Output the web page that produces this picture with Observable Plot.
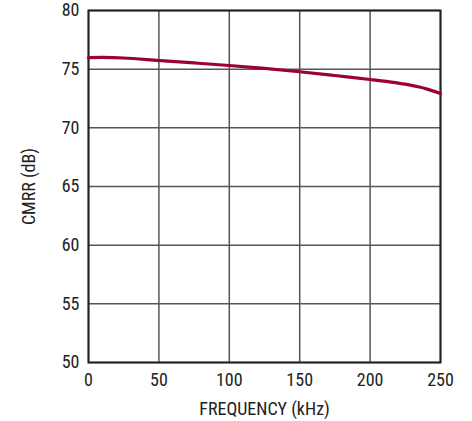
<!DOCTYPE html>
<html>
<head>
<meta charset="utf-8">
<script src="https://cdn.jsdelivr.net/npm/d3@7"></script>
<script src="https://cdn.jsdelivr.net/npm/@observablehq/plot@0.6"></script>
<style>
  html, body { margin: 0; padding: 0; background: #fff; }
  svg { display: block; }
</style>
</head>
<body>
<div id="chart"></div>
<script>
const freqKHz = [0, 10, 25, 50, 75, 100, 125, 150, 175, 200, 215, 225, 235, 240, 250];
const cmrrDB  = [75.98, 76.0, 75.95, 75.74, 75.53, 75.31, 75.06, 74.78, 74.46, 74.12, 73.9, 73.72, 73.48, 73.32, 72.92];
const xTicks = [0, 50, 100, 150, 200, 250];
const yTicks = [50, 55, 60, 65, 70, 75, 80];

const data = freqKHz.map((f, i) => ({f, v: cmrrDB[i]}));
const font = "'Liberation Sans Narrow', 'Roboto Condensed', Roboto, sans-serif";

const chart = Plot.plot({
  width: 472,
  height: 421,
  marginLeft: 88,
  marginRight: 32,
  marginTop: 10,
  marginBottom: 59,
  style: {fontFamily: font, fontSize: "18px", color: "#222", background: "#fff"},
  x: {domain: [0, 250]},
  y: {domain: [50, 80]},
  marks: [
    Plot.gridX(xTicks, {stroke: "#555", strokeOpacity: 1, strokeWidth: 1.5}),
    Plot.gridY(yTicks, {stroke: "#555", strokeOpacity: 1, strokeWidth: 1.5}),
    Plot.frame({stroke: "#222", strokeWidth: 2}),
    Plot.line(data, {x: "f", y: "v", stroke: "#9b0036", strokeWidth: 3.2, curve: "catmull-rom"}),
    Plot.axisX({ticks: xTicks, tickSize: 0, tickPadding: 11, fontSize: 18, label: "FREQUENCY (kHz)", labelAnchor: "center", labelArrow: "none", labelOffset: 52}),
    Plot.axisY({ticks: yTicks, tickSize: 0, tickPadding: 9, fontSize: 18, label: "CMRR (dB)", labelAnchor: "center", labelArrow: "none", labelOffset: 66})
  ]
});
document.getElementById("chart").appendChild(chart);
</script>
</body>
</html>
